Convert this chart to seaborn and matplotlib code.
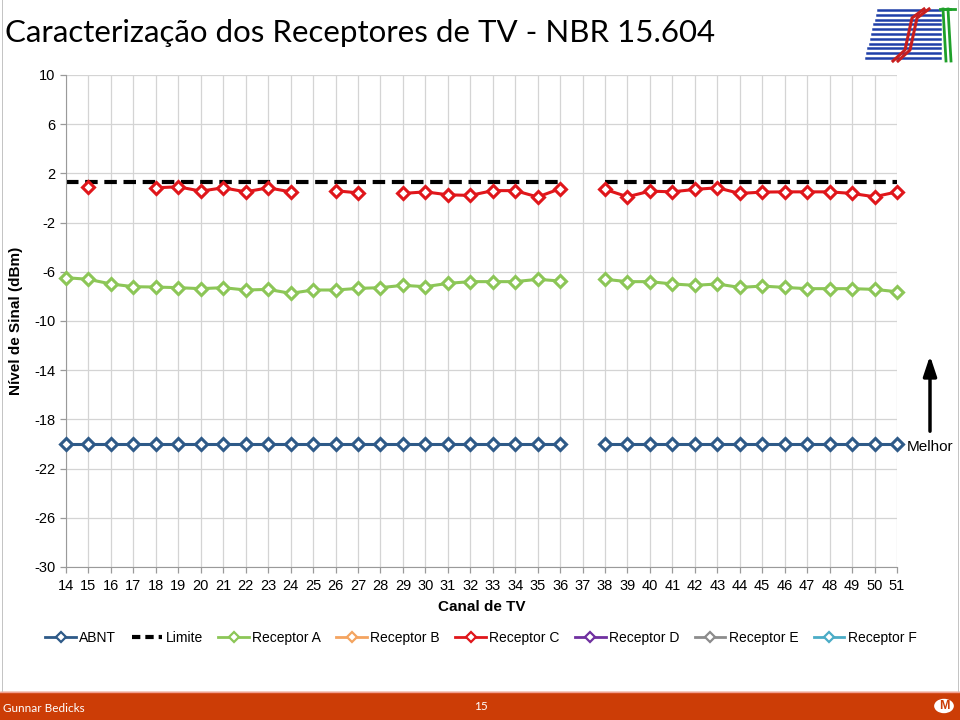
import numpy as np
import pandas as pd
import matplotlib
matplotlib.use("Agg")
import matplotlib.pyplot as plt
from matplotlib.lines import Line2D
from matplotlib.patches import Rectangle, Circle, FancyArrowPatch
import seaborn as sns

plt.rcParams["axes.unicode_minus"] = False

# ==========================
# Données
# ==========================
canais = list(range(14, 52))

abnt = [-20, -20, -20, -20, -20, -20, -20, -20, -20, -20,
        -20, -20, -20, -20, -20, -20, -20, -20, -20, -20,
        -20, -20, -20, None, -20, -20, -20, -20, -20, -20,
        -20, -20, -20, -20, -20, -20, -20, -20]

limite = [1.3, 1.3, 1.3, 1.3, 1.3, 1.3, 1.3, 1.3, 1.3, 1.3,
          1.3, 1.3, 1.3, 1.3, 1.3, 1.3, 1.3, 1.3, 1.3, 1.3,
          1.3, 1.3, 1.3, None, 1.3, 1.3, 1.3, 1.3, 1.3, 1.3,
          1.3, 1.3, 1.3, 1.3, 1.3, 1.3, 1.3, 1.3]

receptor_a = [-6.48, -6.61, -6.99, -7.21, -7.24, -7.29, -7.37, -7.29, -7.48, -7.43,
              -7.75, -7.48, -7.48, -7.35, -7.29, -7.10, -7.21, -6.94, -6.80, -6.80,
              -6.80, -6.61, -6.75, None, -6.61, -6.80, -6.80, -6.99, -7.10, -6.99,
              -7.27, -7.16, -7.27, -7.37, -7.37, -7.37, -7.43, -7.62]

receptor_c = [None, 0.91, None, None, 0.83, 0.91, 0.56, 0.83, 0.50, 0.83,
              0.50, None, 0.59, 0.42, None, 0.37, 0.50, 0.26, 0.21, 0.60,
              0.60, 0.08, 0.76, None, 0.70, 0.10, 0.56, 0.50, 0.70, 0.83,
              0.37, 0.48, 0.50, 0.50, 0.50, 0.37, 0.10, 0.50]

series_names = ["ABNT", "Limite", "Receptor A", "Receptor B",
                "Receptor C", "Receptor D", "Receptor E", "Receptor F"]
series_colors = ["#2E5A88", "#000000", "#8CC657", "#F4A460",
                 "#E0161B", "#7030A0", "#8C8C8C", "#4BACC6"]
valores = {"ABNT": abnt, "Limite": limite,
           "Receptor A": receptor_a, "Receptor C": receptor_c}

# ==========================
# Mise en forme long format (segments coupés aux trous)
# ==========================
rows = []
for nome, vals in valores.items():
    seg = 0
    for c, v in zip(canais, vals):
        if v is None:
            seg += 1
            continue
        rows.append({"canal": c, "valor": v, "serie": nome, "seg": seg})
df = pd.DataFrame(rows)

cores = dict(zip(series_names, series_colors))

fig = plt.figure(figsize=(9.6, 7.2), dpi=100)
ax = fig.add_axes([66 / 960, 1 - 567 / 720, (897 - 66) / 960, (567 - 75) / 720])

for nome in ["ABNT", "Receptor A", "Receptor C"]:
    sub = df[df["serie"] == nome]
    sns.lineplot(data=sub, x="canal", y="valor", units="seg", estimator=None,
                 color=cores[nome], lw=2.2, marker="D", markersize=6.5,
                 markerfacecolor="white", markeredgecolor=cores[nome],
                 markeredgewidth=2.2, ax=ax, legend=False, sort=False,
                 clip_on=False, zorder=3)

sub = df[df["serie"] == "Limite"]
sns.lineplot(data=sub, x="canal", y="valor", units="seg", estimator=None,
             color="black", lw=3, linestyle=(0, (3, 1.6)), ax=ax,
             legend=False, sort=False, zorder=2)

ax.set_xlim(14, 51)
ax.set_ylim(-30, 10)
ax.set_xticks(canais)
ax.set_yticks(np.arange(-30, 11, 4))
ax.grid(True, color="#D4D4D4", lw=0.9)
ax.set_axisbelow(True)
for s in ["top", "right"]:
    ax.spines[s].set_visible(False)
for s in ["left", "bottom"]:
    ax.spines[s].set_color("#9A9A9A")
ax.tick_params(axis="both", colors="#9A9A9A", length=4, width=0.9,
               labelcolor="black", labelsize=10.5)
ax.tick_params(axis="x", pad=5)
for t in ax.get_xticklabels() + ax.get_yticklabels():
    t.set_fontfamily("Liberation Sans")

ax.set_xlabel("Canal de TV", fontsize=11, fontweight="bold",
              family="Liberation Sans", labelpad=5)
ax.set_ylabel("Nível de Sinal (dBm)", fontsize=11, fontweight="bold",
              family="Liberation Sans", labelpad=8)

# Légende
handles = []
for nome, cor in zip(series_names, series_colors):
    if nome == "Limite":
        handles.append(Line2D([], [], color=cor, lw=3, linestyle=(0, (2, 1.2))))
    else:
        handles.append(Line2D([], [], color=cor, lw=2, marker="D", markersize=5,
                              markerfacecolor="white", markeredgecolor=cor,
                              markeredgewidth=1.6))
leg = fig.legend(handles, series_names, loc="center", ncol=8,
                 bbox_to_anchor=(481 / 960, 1 - 638 / 720), frameon=False,
                 prop={"family": "Liberation Sans", "size": 10},
                 handlelength=2.2, handletextpad=0.25, columnspacing=1.1)

# Flèche "Melhor"
fig.add_artist(FancyArrowPatch(
    (930 / 960, 1 - 434 / 720), (930 / 960, 1 - 353 / 720),
    transform=fig.transFigure, arrowstyle="-|>,head_width=4,head_length=12",
    color="black", lw=2.5, mutation_scale=1))
fig.text(930 / 960, 1 - 447 / 720, "Melhor", ha="center", va="center",
         fontsize=11, family="Liberation Sans")

# Cadre du graphique (côtés seulement, jusqu'en haut)
for xl in (1.5, 957.5):
    fig.add_artist(Rectangle((xl / 960, 28 / 720), 1.2 / 960, 692 / 720,
                             transform=fig.transFigure, facecolor="#C4C4C4",
                             edgecolor="none"))

# Titre
fig.text(5 / 960, 1 - 33 / 720, "Caracterização dos Receptores de TV - NBR 15.604",
         ha="left", va="center", fontsize=22.5, family="Lato")

# Logo SET (simplifié)
fig.add_artist(Rectangle((862 / 960, 1 - 66 / 720), 95 / 960, 64 / 720,
                         transform=fig.transFigure, facecolor="white",
                         edgecolor="none"))
for i in range(11):
    y = 1 - (10 + i * 4.8) / 720
    x0 = (878 - i * 1.2) / 960
    fig.add_artist(Line2D([x0, 940 / 960], [y, y], color="#1F3FA8", lw=1.8,
                          transform=fig.transFigure))
for dx in (0, 5):
    fig.add_artist(Line2D([(940 + dx) / 960, (950 + dx) / 960],
                          [1 - 9 / 720, 1 - 9 / 720], color="#1FA02A", lw=2,
                          transform=fig.transFigure))
    fig.add_artist(Line2D([(943 + dx) / 960, (946 + dx) / 960],
                          [1 - 9 / 720, 1 - 61 / 720], color="#1FA02A", lw=2,
                          transform=fig.transFigure))
    fig.add_artist(Line2D([(893 + dx) / 960, (905 + dx) / 960, (912 + dx) / 960,
                           (924 + dx) / 960],
                          [1 - 61 / 720, 1 - 50 / 720, 1 - 18 / 720, 1 - 9 / 720],
                          color="#C81E1E", lw=2.2, transform=fig.transFigure))

# Bandeau de bas de page
fig.add_artist(Rectangle((0, 0), 1, 28 / 720, transform=fig.transFigure,
                         color="#CC3D06", zorder=0))
fig.add_artist(Line2D([0, 1], [28 / 720, 28 / 720], color="#F2A090", lw=1,
                      transform=fig.transFigure))
fig.text(3 / 960, 12 / 720, "Gunnar Bedicks", color="white", fontsize=8.5,
         family="Lato", va="center")
fig.text(481 / 960, 14 / 720, "15", color="white", fontsize=8.5,
         family="Lato", ha="center", va="center")
fig.add_artist(Circle((944 / 960, 14 / 720), 0.011, transform=fig.transFigure,
                      facecolor="white", edgecolor="#CC3D06", lw=1))
fig.text(944 / 960, 14 / 720, "M", color="#CC3D06", fontsize=9, fontweight="bold",
         family="Liberation Sans", ha="center", va="center")

fig.savefig("out.png", dpi=100)
